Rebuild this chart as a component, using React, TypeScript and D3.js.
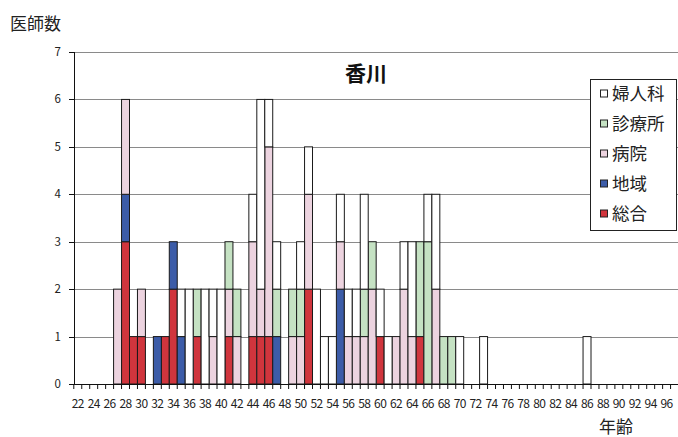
import React from "react";
import * as d3 from "d3";

const ages: number[] = [
  22,23,24,25,26,27,28,29,30,31,32,33,34,35,36,37,38,39,40,41,42,43,44,45,46,47,48,49,50,51,
  52,53,54,55,56,57,58,59,60,61,62,63,64,65,66,67,68,69,70,71,72,73,74,75,76,77,78,79,80,81,
  82,83,84,85,86,87,88,89,90,91,92,93,94,95,96,97,
];
const xTickLabels: number[] = [22,24,26,28,30,32,34,36,38,40,42,44,46,48,50,52,54,56,58,60,62,64,66,68,70,72,74,76,78,80,82,84,86,88,90,92,94,96];
const yTicks: number[] = [0,1,2,3,4,5,6,7];

// ages 22..97
const sogo: number[] = [
  0,0,0,0,0,0,3,1,1,0, 0,1,2,0,0,1,0,0,0,1, 0,0,1,1,1,0,0,0,0,2,
  0,0,0,0,0,0,0,0,1,0, 0,0,0,1,0,0,0,0,0,0, 0,0,0,0,0,0,0,0,0,0,
  0,0,0,0,0,0,0,0,0,0, 0,0,0,0,0,0,
];
const chiiki: number[] = [
  0,0,0,0,0,0,1,0,0,0, 1,0,1,1,0,0,0,0,0,0, 0,0,0,0,0,1,0,0,0,0,
  0,0,0,2,0,0,0,0,0,0, 0,0,0,0,0,0,0,0,0,0, 0,0,0,0,0,0,0,0,0,0,
  0,0,0,0,0,0,0,0,0,0, 0,0,0,0,0,0,
];
const byoin: number[] = [
  0,0,0,0,0,2,2,0,1,0, 0,0,0,0,0,0,0,1,0,1, 1,0,2,1,4,0,0,1,1,2,
  0,0,0,1,1,1,1,2,0,0, 1,2,1,0,0,2,0,0,0,0, 0,0,0,0,0,0,0,0,0,0,
  0,0,0,0,0,0,0,0,0,0, 0,0,0,0,0,0,
];
const shinryojo: number[] = [
  0,0,0,0,0,0,0,0,0,0, 0,0,0,0,0,1,0,0,0,1, 1,0,0,0,0,1,0,1,1,0,
  0,0,0,0,0,0,1,1,0,0, 0,0,0,2,3,0,1,1,0,0, 0,0,0,0,0,0,0,0,0,0,
  0,0,0,0,0,0,0,0,0,0, 0,0,0,0,0,0,
];
const fujinka: number[] = [
  0,0,0,0,0,0,0,0,0,0, 0,0,0,1,2,0,2,1,2,0, 0,0,1,4,1,1,0,0,1,1,
  2,1,1,1,1,1,2,0,1,1, 0,1,2,0,1,2,0,0,1,0, 0,1,0,0,0,0,0,0,0,0,
  0,0,0,0,1,0,0,0,0,0, 0,0,0,0,0,0,
];

const seriesKeys = ["総合", "地域", "病院", "診療所", "婦人科"];
const seriesValues = [sogo, chiiki, byoin, shinryojo, fujinka];
const seriesColors = ["#d0353d", "#3c5ca8", "#ecd3df", "#c5e2c3", "#ffffff"];
const legendOrder = ["婦人科", "診療所", "病院", "地域", "総合"];

const FONT = "'Noto Sans CJK JP', 'Noto Sans', sans-serif";

export default function App() {
  const W = 678, H = 437;
  const x = d3.scaleBand<number>().domain(ages).range([73.8, 73.8 + ages.length * 7.957]).padding(0);
  const y = d3.scaleLinear().domain([0, 7]).range([384, 52]);

  const table = ages.map((a, i) => {
    const row: Record<string, number> = { age: a };
    seriesKeys.forEach((k, j) => (row[k] = seriesValues[j][i]));
    return row;
  });
  const stacked = d3.stack<Record<string, number>>().keys(seriesKeys)(table);
  const colorOf = (k: string) => seriesColors[seriesKeys.indexOf(k)];

  const x0 = 74, x1 = W;

  return (
    <svg width={W} height={H} style={{ position: "absolute", left: 0, top: 0, background: "#fff" }} fontFamily={FONT}>
      <rect x={0} y={0} width={W} height={H} fill="#fff" />
      {yTicks.filter((t) => t > 0).map((t) => (
        <line key={"g" + t} x1={x0} x2={x1} y1={Math.round(y(t)) + 0.5} y2={Math.round(y(t)) + 0.5} stroke="#8a8a8a" strokeWidth={1} />
      ))}
      {stacked.map((s) =>
        s.map((d, i) =>
          d[1] - d[0] > 0 ? (
            <rect
              key={s.key + i}
              x={x(ages[i])!}
              width={x.bandwidth()}
              y={y(d[1])}
              height={y(d[0]) - y(d[1])}
              fill={colorOf(s.key)}
              stroke="#1a1a1a"
              strokeWidth={1}
            />
          ) : null
        )
      )}
      <line x1={x0 + 0.5} x2={x0 + 0.5} y1={y(7)} y2={y(0)} stroke="#111" strokeWidth={1} />
      {yTicks.map((t) => (
        <g key={"y" + t}>
          <line x1={x0 - 5} x2={x0} y1={Math.round(y(t)) + 0.5} y2={Math.round(y(t)) + 0.5} stroke="#111" />
          <text x={61} y={y(t)} dy="0.35em" textAnchor="end" fontSize={11.5} fill="#222">{t}</text>
        </g>
      ))}
      <line x1={x0} x2={x1} y1={Math.round(y(0)) + 0.5} y2={Math.round(y(0)) + 0.5} stroke="#111" strokeWidth={1.2} />
      {ages.map((a) => (
        <line key={"xt" + a} x1={x(a)!} x2={x(a)!} y1={y(0)} y2={y(0) + 5} stroke="#111" />
      ))}
      {xTickLabels.map((a) => (
        <text key={"xl" + a} x={x(a)! + x.bandwidth() / 2} y={408} textAnchor="middle" fontSize={12} fill="#222" letterSpacing={-0.6}>{a}</text>
      ))}
      <text x={10} y={30} fontSize={17} fill="#222">医師数</text>
      <text x={616} y={433} fontSize={17} textAnchor="middle" fill="#222">年齢</text>
      <text x={366} y={81} fontSize={21} fontWeight="bold" textAnchor="middle" fill="#111">香川</text>
      <rect x={590.5} y={79.5} width={86} height={151} fill="#fff" stroke="#222" strokeWidth={1} />
      {legendOrder.map((k, i) => (
        <g key={"lg" + k} transform={`translate(0, ${93.5 + i * 30})`}>
          <rect x={600.5} y={-3.5} width={7} height={7} fill={colorOf(k)} stroke="#222" strokeWidth={1} />
          <text x={612} y={0} dy="0.36em" fontSize={17.5} fill="#222">{k}</text>
        </g>
      ))}
    </svg>
  );
}
